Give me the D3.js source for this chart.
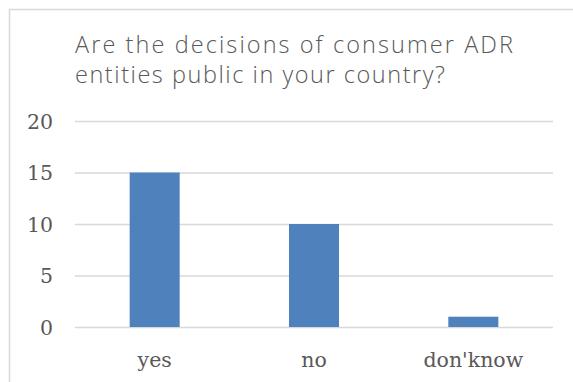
<!DOCTYPE html>
<html>
<head>
<meta charset="utf-8">
<script src="https://cdn.jsdelivr.net/npm/d3@7"></script>
<style>
  html, body { margin: 0; padding: 0; background: #fff; }
  svg { display: block; }
</style>
</head>
<body>
<svg id="chart" width="573" height="382"></svg>
<script>
// Survey answers and counts
const categories = ["yes", "no", "don'know"];
const counts = [15, 10, 1];
const yTicks = [0, 5, 10, 15, 20];
const titleLines = ["Are the decisions of consumer ADR", "entities public in your country?"];

const svg = d3.select("#chart");

// Chart frame (continues past the right and bottom edges)
svg.append("rect")
  .attr("x", 9.5).attr("y", 9.5)
  .attr("width", 640).attr("height", 420)
  .attr("fill", "#fff")
  .attr("stroke", "#d9d9d9")
  .attr("stroke-width", 1.5);

// Title, two lines with wide letter spacing
const titleWidths = [438, 370];
const title = svg.append("g");
titleLines.forEach((line, i) => {
  title.append("text")
    .attr("x", 75)
    .attr("y", 53 + i * 30)
    .attr("font-family", "'Open Sans', sans-serif")
    .attr("font-weight", 300)
    .attr("font-size", 23.5)
    .attr("fill", "#595959")
    .attr("textLength", titleWidths[i])
    .attr("lengthAdjust", "spacing")
    .text(line);
});

const plot = { left: 75, right: 553, top: 121, bottom: 327 };

const x = d3.scaleBand()
  .domain(categories)
  .range([plot.left, plot.right])
  .paddingInner(0.686)
  .paddingOuter(0.343);

const y = d3.scaleLinear()
  .domain([0, 20])
  .range([plot.bottom, plot.top]);

// Horizontal gridlines
svg.append("g")
  .selectAll("line")
  .data(yTicks)
  .join("line")
  .attr("x1", plot.left).attr("x2", plot.right)
  .attr("y1", d => y(d) + 0.5).attr("y2", d => y(d) + 0.5)
  .attr("stroke", "#d9d9d9")
  .attr("stroke-width", 1.5);

// Y axis labels
const yAxis = d3.axisLeft(y).tickValues(yTicks).tickSize(0).tickPadding(0);
const yg = svg.append("g")
  .attr("transform", `translate(53,0.5)`)
  .call(yAxis);
yg.select(".domain").remove();
yg.selectAll("text")
  .attr("font-family", "'DejaVu Serif', serif")
  .attr("font-size", 20.5)
  .attr("fill", "#595959");

// Bars
svg.append("g")
  .selectAll("rect")
  .data(categories.map((c, i) => ({ c, v: counts[i] })))
  .join("rect")
  .attr("x", d => x(d.c))
  .attr("y", d => y(d.v))
  .attr("width", x.bandwidth())
  .attr("height", d => y(0) - y(d.v))
  .attr("fill", "#4f81bd");

// Category labels
const xAxis = d3.axisBottom(x).tickSize(0).tickPadding(0);
const xg = svg.append("g")
  .attr("transform", `translate(0,${plot.bottom})`)
  .call(xAxis);
xg.select(".domain").remove();
xg.selectAll("text")
  .attr("dy", null)
  .attr("y", 40)
  .attr("font-family", "'DejaVu Serif', serif")
  .attr("font-size", 20.5)
  .attr("fill", "#595959");
</script>
</body>
</html>
